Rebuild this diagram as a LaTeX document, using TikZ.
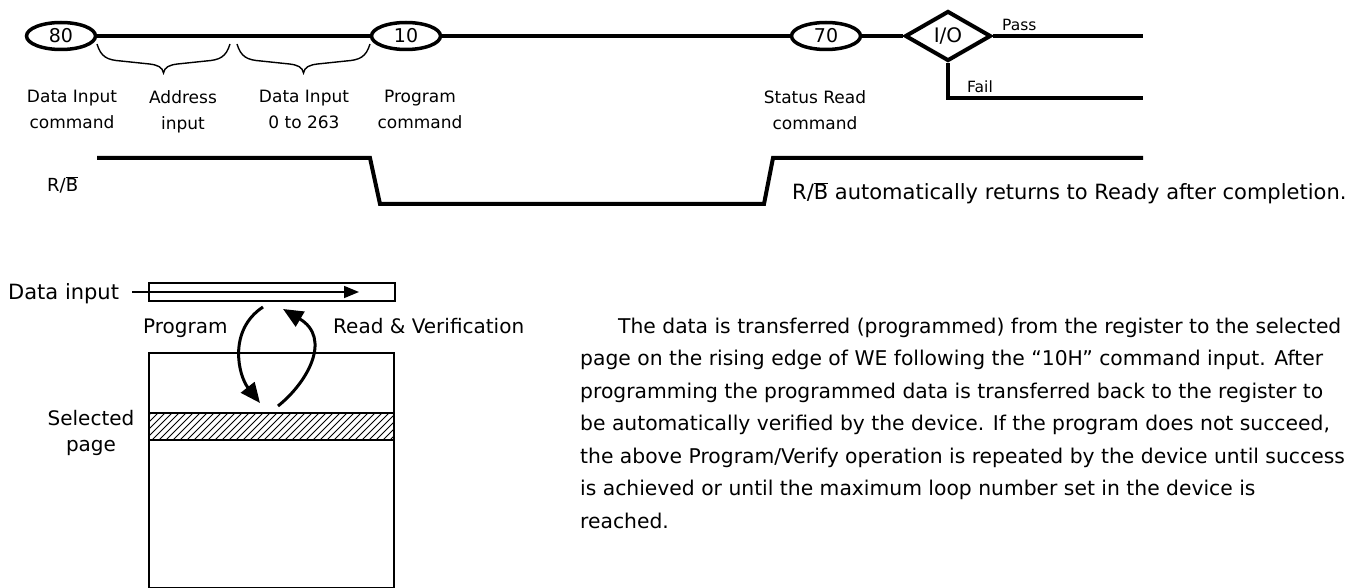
\documentclass[tikz,border=0pt]{standalone}
\usepackage{fontspec}
\setmainfont{DejaVu Sans}
\usetikzlibrary{shapes.geometric,arrows.meta}
\newcommand\curlybrace[3]{%
  \draw[brc] (#1,44) .. controls (#1+4,57) and (#1+10,60) .. (#1+24,61)
    -- (#3-14,64) .. controls (#3-6,65) and (#3-1,67) .. (#3,73)
    .. controls (#3+1,67) and (#3+6,65) .. (#3+14,64)
    -- (#2-24,61) .. controls (#2-10,60) and (#2-4,57) .. (#2,44);}
\newcommand\rbbar{R/$\overline{\hbox{B}}$}
\begin{document}
\begin{tikzpicture}[x=1pt,y=-1pt,
  cmd/.style={ellipse,draw,line width=3.5pt,minimum width=69pt,minimum height=27pt,inner sep=0pt,font=\fontsize{19}{22}\selectfont},
  sig/.style={line width=4pt},
  lbl/.style={align=center,inner sep=0pt,anchor=north,font=\fontsize{17}{26}\selectfont},
  brc/.style={line width=1.4pt},
  txt/.style={inner sep=0pt,anchor=base west,font=\fontsize{20}{26}\selectfont},
  curv/.style={line width=3pt,-{Triangle[length=20pt,width=17pt]}}
]
\useasboundingbox (0,0) rectangle (1360,588);

% ---- command sequence
\node[cmd] (e80) at (61,36) {80};
\node[cmd] (e10) at (406,36) {10};
\node[cmd] (e70) at (826,36) {70};
\node[diamond,draw,line width=4pt,minimum width=86pt,minimum height=50pt,inner sep=0pt,font=\fontsize{20}{22}\selectfont] (io) at (948,36) {I/O};
\coordinate (passend) at (1143,36);
\coordinate (failend) at (1143,98);
\draw[sig] (e80) -- (e10);
\draw[sig] (e10) -- (e70);
\draw[sig] (e70) -- (io);
\draw[sig] (io) -- (passend);
\draw[sig] (io.south) |- (failend);
\node[inner sep=0pt,anchor=base west,font=\fontsize{15.5}{18}\selectfont] (pass) at (1002,31) {Pass};
\node[inner sep=0pt,anchor=base west,font=\fontsize{15.5}{18}\selectfont] (fail) at (967,93) {Fail};

\curlybrace{97}{230}{163.5}
\curlybrace{237}{370}{303.5}

\node[lbl] (l1) at (72,90) {Data Input\\command};
\node[lbl] (l2) at (183,90) {Address\\input};
\node[lbl] (l3) at (304,90) {Data Input\\0 to 263};
\node[lbl] (l4) at (420,90) {Program\\command};
\node[lbl] (l5) at (815,90) {Status Read\\command};

% ---- R/B timing
\node[inner sep=0pt,anchor=base west,font=\fontsize{18}{20}\selectfont] (rb) at (47,192) {\rbbar};
\coordinate (r0) at (97,158);
\coordinate (r1) at (370,158);
\coordinate (r2) at (380,204);
\coordinate (r3) at (764,204);
\coordinate (r4) at (773,158);
\coordinate (r5) at (1143,158);
\draw[sig] (r0) -- (r1) -- (r2) -- (r3) -- (r4) -- (r5);
\node[inner sep=0pt,anchor=base west,font=\fontsize{21}{24}\selectfont] (note) at (792,200) {\rbbar{} automatically returns to Ready after completion.};

% ---- page program figure
\node[txt,font=\fontsize{21}{24}\selectfont] (din) at (8,299) {Data input};
\node[draw,line width=2pt,minimum width=246pt,minimum height=18pt,inner sep=0pt] (reg) at (272,292) {};
\coordinate (dstart) at (132,292);
\coordinate (dend) at (359,292);
\draw[line width=1.5pt,-{Triangle[length=15pt,width=12pt]}] (dstart) -- (dend);

\node[txt] (prog) at (143,333) {Program};
\node[txt] (rv) at (333,333) {Read \& Verification};

\draw[line width=1.5pt] (149,353) rectangle (394,588);
\begin{scope}
  \clip (149,413) rectangle (394,440);
  \foreach \i in {110,117,...,400} \draw[line width=0.8pt] (\i,440) -- (\i+27,413);
\end{scope}
\draw[line width=2.5pt] (149,413) -- (394,413);
\draw[line width=2.5pt] (149,440) -- (394,440);

\node[align=center,inner sep=0pt,anchor=north,font=\fontsize{20}{26}\selectfont] (sel) at (91,410) {Selected\\page};

\coordinate (pa) at (263,307);
\coordinate (pb) at (260,403);
\coordinate (ra) at (278,406);
\coordinate (rb2) at (283,309);
\draw[curv] (pa) .. controls (228,330) and (238,375) .. (pb);
\draw[curv] (ra) .. controls (308,382) and (332,338) .. (rb2);

% ---- description
\node[align=left,inner sep=0pt,anchor=north west,font=\fontsize{20.3}{32.5}\selectfont] (desc) at (580,317.5) {\hspace*{38pt}The data is transferred (programmed) from the register to the selected\\
page on the rising edge of WE following the “10H” command input. After\\
programming the programmed data is transferred back to the register to\\
be automatically verified by the device. If the program does not succeed,\\
the above Program/Verify operation is repeated by the device until success\\
is achieved or until the maximum loop number set in the device is\\
reached.};
\end{tikzpicture}
\end{document}
